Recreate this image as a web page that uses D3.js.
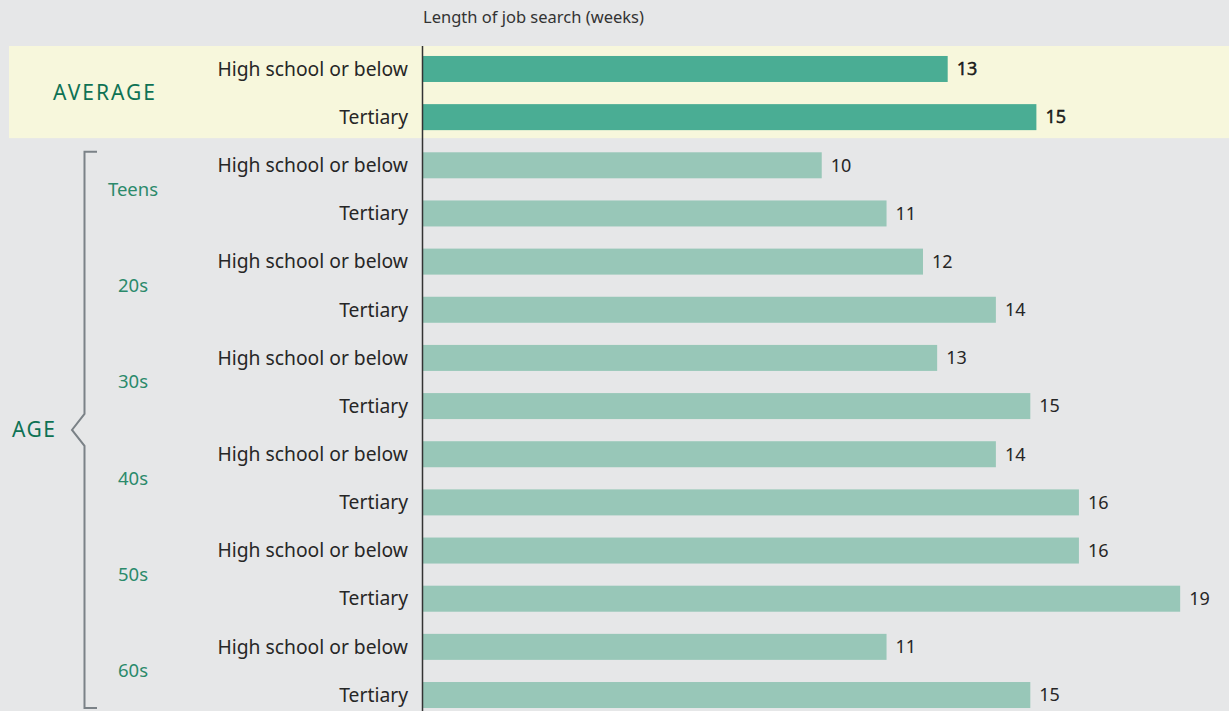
<!DOCTYPE html>
<html>
<head>
<meta charset="utf-8">
<script src="https://cdn.jsdelivr.net/npm/d3@7"></script>
<style>
  html, body { margin: 0; padding: 0; background: #e6e7e8; }
  svg { display: block; font-family: "Noto Sans", "Open Sans", sans-serif; }
  .catLabel { font-size: 19.3px; fill: #262626; }
  .valLabel { font-size: 18px; fill: #262626; }
  .groupLabel { font-size: 18.5px; fill: #2b8a6b; }
</style>
</head>
<body>
<svg id="chart"></svg>
<script>
  // data
  var groups = ["AVERAGE", "Teens", "20s", "30s", "40s", "50s", "60s"];
  var education = ["High school or below", "Tertiary"];
  var highSchool = [12.98, 9.87, 12.37, 12.72, 14.17, 16.22, 11.47];
  var tertiary = [15.17, 11.47, 14.17, 15.02, 16.22, 18.72, 15.02];
  var hsLabels = ["13", "10", "12", "13", "14", "16", "11"];
  var terLabels = ["15", "11", "14", "15", "16", "19", "15"];

  var width = 1229, height = 711;
  var x0 = 422;

  var rows = [];
  groups.forEach(function(g, i) {
    rows.push({group: g, edu: education[0], value: highSchool[i], label: hsLabels[i], avg: i === 0, key: g + "|0"});
    rows.push({group: g, edu: education[1], value: tertiary[i], label: terLabels[i], avg: i === 0, key: g + "|1"});
  });

  var svg = d3.select("#chart").attr("width", width).attr("height", height);

  var x = d3.scaleLinear().domain([0, 20]).range([x0, x0 + 810]);
  var y = d3.scaleBand()
            .domain(rows.map(function(d) { return d.key; }))
            .range([44.9, 719.1])
            .paddingInner(0.46)
            .paddingOuter(0.23);
  var bw = y.bandwidth();

  // highlight band for the averages
  var avgTop = y(rows[0].key) - 10;
  var avgBottom = y(rows[1].key) + bw + 8;
  svg.append("rect")
     .attr("x", 9).attr("y", avgTop)
     .attr("width", width - 9).attr("height", avgBottom - avgTop)
     .attr("fill", "#f7f7dc");

  svg.append("text")
     .attr("x", x0 + 1).attr("y", 23)
     .attr("font-size", "16.5px").attr("fill", "#333")
     .text("Length of job search (weeks)");

  svg.selectAll(".bar")
     .data(rows)
     .enter().append("rect")
     .attr("class", "bar")
     .attr("x", x(0))
     .attr("y", function(d) { return y(d.key); })
     .attr("width", function(d) { return x(d.value) - x(0); })
     .attr("height", bw)
     .attr("fill", function(d) { return d.avg ? "#4aad94" : "#98c7b8"; });

  svg.selectAll(".valLabel")
     .data(rows)
     .enter().append("text")
     .attr("class", "valLabel")
     .attr("x", function(d) { return x(d.value) + 9; })
     .attr("y", function(d) { return y(d.key) + bw / 2; })
     .attr("dy", "0.35em")
     .attr("fill", function(d) { return d.avg ? "#000" : null; })
     .attr("stroke", function(d) { return d.avg ? "#000" : null; })
     .attr("stroke-width", function(d) { return d.avg ? 0.4 : null; })
     .text(function(d) { return d.label; });

  svg.selectAll(".catLabel")
     .data(rows)
     .enter().append("text")
     .attr("class", "catLabel")
     .attr("x", 408)
     .attr("y", function(d) { return y(d.key) + bw / 2; })
     .attr("dy", "0.35em")
     .attr("text-anchor", "end")
     .text(function(d) { return d.edu; });

  // vertical axis line
  svg.append("line")
     .attr("x1", x0 + 0.5).attr("x2", x0 + 0.5)
     .attr("y1", avgTop).attr("y2", height)
     .attr("stroke", "#333").attr("stroke-width", 1.5);

  // group labels between each pair of rows
  groups.forEach(function(g, i) {
    var mid = (y(g + "|0") + y(g + "|1") + bw) / 2;
    if (i === 0) {
      svg.append("text")
         .attr("x", 105).attr("y", mid)
         .attr("dy", "0.35em")
         .attr("text-anchor", "middle")
         .attr("font-size", "21px").attr("fill", "#0e7254")
         .attr("letter-spacing", "2px")
         .text(g);
    } else {
      svg.append("text")
         .attr("class", "groupLabel")
         .attr("x", 133).attr("y", mid)
         .attr("dy", "0.35em")
         .attr("text-anchor", "middle")
         .text(g);
    }
  });

  // AGE bracket
  var bTop = y(rows[2].key) - 0.5;
  var bBot = y(rows[rows.length - 1].key) + bw;
  var bMid = (bTop + bBot) / 2;
  var bx = 84.5;
  svg.append("path")
     .attr("d", "M97," + bTop + "H" + bx + "V" + (bMid - 16) +
                "L72," + bMid + "L" + bx + "," + (bMid + 16) +
                "V" + bBot + "H97")
     .attr("fill", "none")
     .attr("stroke", "#7b8287")
     .attr("stroke-width", 2);

  svg.append("text")
     .attr("x", 12).attr("y", bMid)
     .attr("dy", "0.35em")
     .attr("font-size", "21px").attr("fill", "#0e7254")
     .attr("letter-spacing", "1.5px")
     .text("AGE");
</script>
</body>
</html>
